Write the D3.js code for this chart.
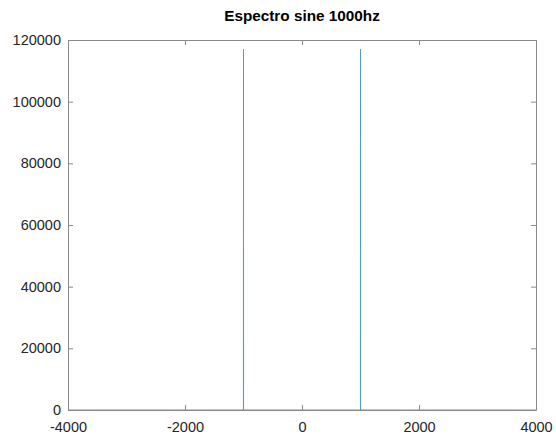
<!DOCTYPE html>
<html>
<head>
<meta charset="utf-8">
<script src="https://cdn.jsdelivr.net/npm/d3@7"></script>
<style>
  html, body { margin: 0; padding: 0; background: #fff; }
  svg { display: block; font-family: "Liberation Sans", Arial, sans-serif; }
</style>
</head>
<body>
<div id="chart"></div>
<script>
// spectrum of a 1000 Hz sine: flat zero line with peaks at +-1000 Hz
const freqs = [-4000, -1001, -1000, -999, 999, 1000, 1001, 4000];
const magnitudes = [0, 0, 117000, 0, 0, 117000, 0, 0];
const xTicks = [-4000, -2000, 0, 2000, 4000];
const yTicks = [0, 20000, 40000, 60000, 80000, 100000, 120000];

const width = 556;
const height = 436;
const margin = { top: 40, right: 20, bottom: 26, left: 68 };

const svg = d3
  .select("#chart")
  .append("svg")
  .attr("width", width)
  .attr("height", height);

const xScale = d3.scaleLinear().domain([-4000, 4000]).range([margin.left, width - margin.right]);
const yScale = d3.scaleLinear().domain([0, 120000]).range([height - margin.bottom, margin.top]);

const axisColor = "#8a8a8a";
const textColor = "#262626";
const tickLen = 5;
const plain = (v) => String(v);

// data line
const line = d3
  .line()
  .x((d, i) => xScale(freqs[i]))
  .y((d) => yScale(d));

svg
  .append("path")
  .datum(magnitudes)
  .attr("fill", "none")
  .attr("stroke", "#4f9bd3")
  .attr("stroke-width", 1)
  .attr("d", line);

// axes box with inward ticks
const bottomAxis = svg
  .append("g")
  .attr("transform", `translate(0, ${height - margin.bottom})`)
  .call(d3.axisBottom(xScale).tickValues(xTicks).tickFormat(plain).tickSize(-tickLen).tickPadding(12).tickSizeOuter(0));

const topAxis = svg
  .append("g")
  .attr("transform", `translate(0, ${margin.top})`)
  .call(d3.axisTop(xScale).tickValues(xTicks).tickSize(-tickLen).tickFormat("").tickSizeOuter(0));

const leftAxis = svg
  .append("g")
  .attr("transform", `translate(${margin.left}, 0)`)
  .call(d3.axisLeft(yScale).tickValues(yTicks).tickFormat(plain).tickSize(-tickLen).tickPadding(7).tickSizeOuter(0));

const rightAxis = svg
  .append("g")
  .attr("transform", `translate(${width - margin.right}, 0)`)
  .call(d3.axisRight(yScale).tickValues(yTicks).tickSize(-tickLen).tickFormat("").tickSizeOuter(0));

[bottomAxis, topAxis, leftAxis, rightAxis].forEach((g) => {
  g.select(".domain").attr("stroke", axisColor).attr("stroke-width", 1);
  g.selectAll(".tick line").attr("stroke", axisColor).attr("stroke-width", 1);
  g.selectAll(".tick text")
    .attr("fill", textColor)
    .style("font-size", "14.5px")
    .style("font-family", "'Liberation Sans', Arial, sans-serif");
});

svg
  .append("text")
  .attr("x", (margin.left + width - margin.right) / 2)
  .attr("y", 20.5)
  .attr("text-anchor", "middle")
  .attr("fill", "#000")
  .style("font-size", "15.3px")
  .style("font-weight", "bold")
  .text("Espectro sine 1000hz");
</script>
</body>
</html>
